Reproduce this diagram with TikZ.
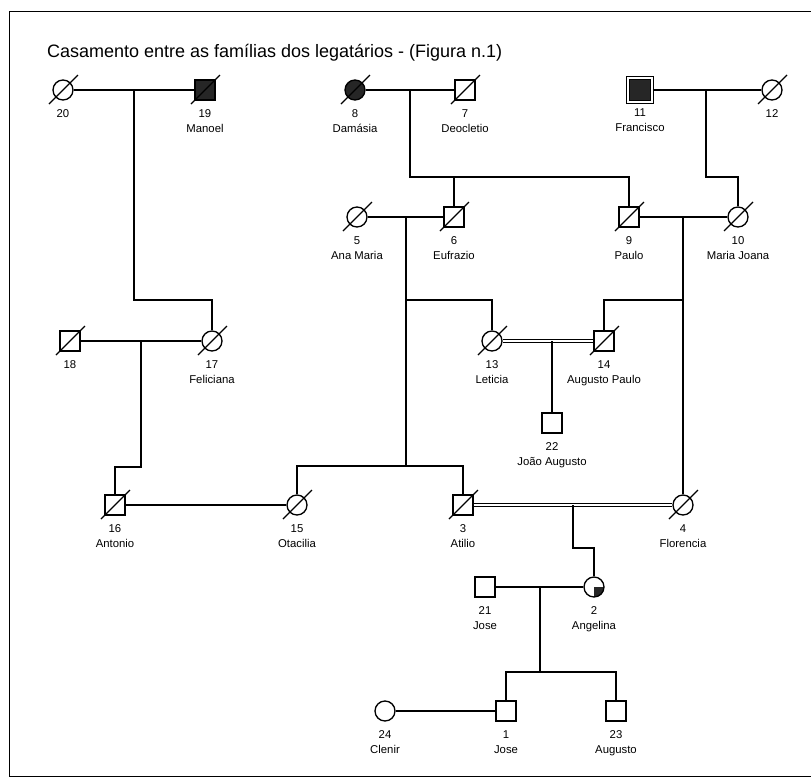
\documentclass[tikz,border=0pt]{standalone}
\usepackage{fontspec}
\setmainfont{Liberation Sans}
\usetikzlibrary{positioning, calc}

\begin{document}
\begin{tikzpicture}[
  x=0.75pt, y=-0.75pt,
  line width=1pt,
  font=\fontsize{8.5}{11.3}\selectfont,
  male/.style={draw,rectangle,minimum size=15pt,inner sep=0pt},
  female/.style={draw,circle,minimum size=15pt,inner sep=0pt},
  affected/.style={fill=black!85},
  carrier/.style={path picture={\fill[black!85] (path picture bounding box.center) rectangle (path picture bounding box.south east);}},
  proband/.style={male,affected,minimum size=18pt,double,double distance=2pt,line width=0.8pt},
  tag/.style={align=center,inner sep=0pt},
  kin/.style={double,double distance=1.6pt,line width=0.7pt}
]
\useasboundingbox (0,0) rectangle (811,779);
\draw[line width=0.7pt] (811,11) -- (9,11) -- (9,776) -- (811,776);

\node[anchor=west,font=\fontsize{13.5}{16}\selectfont] (title) at (42,53) {Casamento entre as famílias dos legatários - (Figura n.1)};

% first generation
\node[female] (p20) at (63,90) {};
\node[male,affected] (p19) at (205,90) {};
\node[female,affected] (p8) at (355,90) {};
\node[male] (p7) at (465,90) {};
\node[proband] (p11) at (640,90) {};
\node[female] (p12) at (772,90) {};

% second generation
\node[female] (p5) at (357,217) {};
\node[male] (p6) at (454,217) {};
\node[male] (p9) at (629,217) {};
\node[female] (p10) at (738,217) {};

% third generation
\node[male] (p18) at (70,341) {};
\node[female] (p17) at (212,341) {};
\node[female] (p13) at (492,341) {};
\node[male] (p14) at (604,341) {};
\node[male] (p22) at (552,423) {};

% fourth generation
\node[male] (p16) at (115,505) {};
\node[female] (p15) at (297,505) {};
\node[male] (p3) at (463,505) {};
\node[female] (p4) at (683,505) {};

\node[male] (p21) at (485,587) {};
\node[female,carrier] (p2) at (594,587) {};

\node[female] (p24) at (385,711) {};
\node[male] (p1) at (506,711) {};
\node[male] (p23) at (616,711) {};

% deceased
\foreach \p in {p20,p19,p8,p7,p12,p5,p6,p9,p10,p18,p17,p13,p14,p16,p15,p3,p4}
  \draw ([shift={(-14,14)}]\p.center) -- ([shift={(15,-15)}]\p.center);

% labels
\node[tag] (t20) [below=6pt of p20] {20};
\node[tag] (t19) [below=6pt of p19] {19\\Manoel};
\node[tag] (t8) [below=6pt of p8] {8\\Damásia};
\node[tag] (t7) [below=6pt of p7] {7\\Deocletio};
\node[tag] (t11) [below=4pt of p11] {11\\Francisco};
\node[tag] (t12) [below=6pt of p12] {12};
\node[tag] (t5) [below=6pt of p5] {5\\Ana Maria};
\node[tag] (t6) [below=6pt of p6] {6\\Eufrazio};
\node[tag] (t9) [below=6pt of p9] {9\\Paulo};
\node[tag] (t10) [below=6pt of p10] {10\\Maria Joana};
\node[tag] (t18) [below=6pt of p18] {18};
\node[tag] (t17) [below=6pt of p17] {17\\Feliciana};
\node[tag] (t13) [below=6pt of p13] {13\\Leticia};
\node[tag] (t14) [below=6pt of p14] {14\\Augusto Paulo};
\node[tag] (t22) [below=6pt of p22] {22\\João Augusto};
\node[tag] (t16) [below=6pt of p16] {16\\Antonio};
\node[tag] (t15) [below=6pt of p15] {15\\Otacilia};
\node[tag] (t3) [below=6pt of p3] {3\\Atilio};
\node[tag] (t4) [below=6pt of p4] {4\\Florencia};
\node[tag] (t21) [below=6pt of p21] {21\\Jose};
\node[tag] (t2) [below=6pt of p2] {2\\Angelina};
\node[tag] (t24) [below=6pt of p24] {24\\Clenir};
\node[tag] (t1) [below=6pt of p1] {1\\Jose};
\node[tag] (t23) [below=6pt of p23] {23\\Augusto};

% unions and descent
\draw (p20) -- (p19);
\coordinate (u2019) at (134,90);
\coordinate (b2019) at (134,300);
\draw (u2019) -- (b2019) -| (p17);

\draw (p8) -- (p7);
\coordinate (u87) at (410,90);
\coordinate (b87) at (410,177);
\draw (u87) -- (b87) -| (p9);
\draw (p6) -- (p6 |- b87);

\draw (p11) -- (p12);
\coordinate (u1112) at (706,90);
\coordinate (b1112) at (706,177);
\draw (u1112) -- (b1112) -| (p10);

\draw (p5) -- (p6);
\coordinate (u56) at (406,217);
\coordinate (k56) at (406,300);
\coordinate (b56) at (406,466);
\draw (u56) -- (b56);
\draw (k56) -| (p13);
\draw (p15) |- (p3 |- b56) -- (p3);

\draw (p9) -- (p10);
\coordinate (u910) at (683,217);
\coordinate (k910) at (683,300);
\draw (u910) -- (p4);
\draw (k910) -| (p14);

\draw (p18) -- (p17);
\coordinate (u1817) at (141,341);
\coordinate (b1817) at (141,467);
\draw (u1817) -- (b1817) -| (p16);

\draw[kin] (p13) -- (p14);
\coordinate (u1314) at (552,341);
\draw (u1314) -- (p22);

\draw (p16) -- (p15);

\draw[kin] (p3) -- (p4);
\coordinate (u34) at (573,505);
\coordinate (b34) at (573,548);
\draw (u34) -- (b34) -| (p2);

\draw (p21) -- (p2);
\coordinate (u212) at (540,587);
\coordinate (b212) at (540,672);
\draw (u212) -- (b212);
\draw (p1) |- (p23 |- b212) -- (p23);

\draw (p24) -- (p1);
\end{tikzpicture}
\end{document}
